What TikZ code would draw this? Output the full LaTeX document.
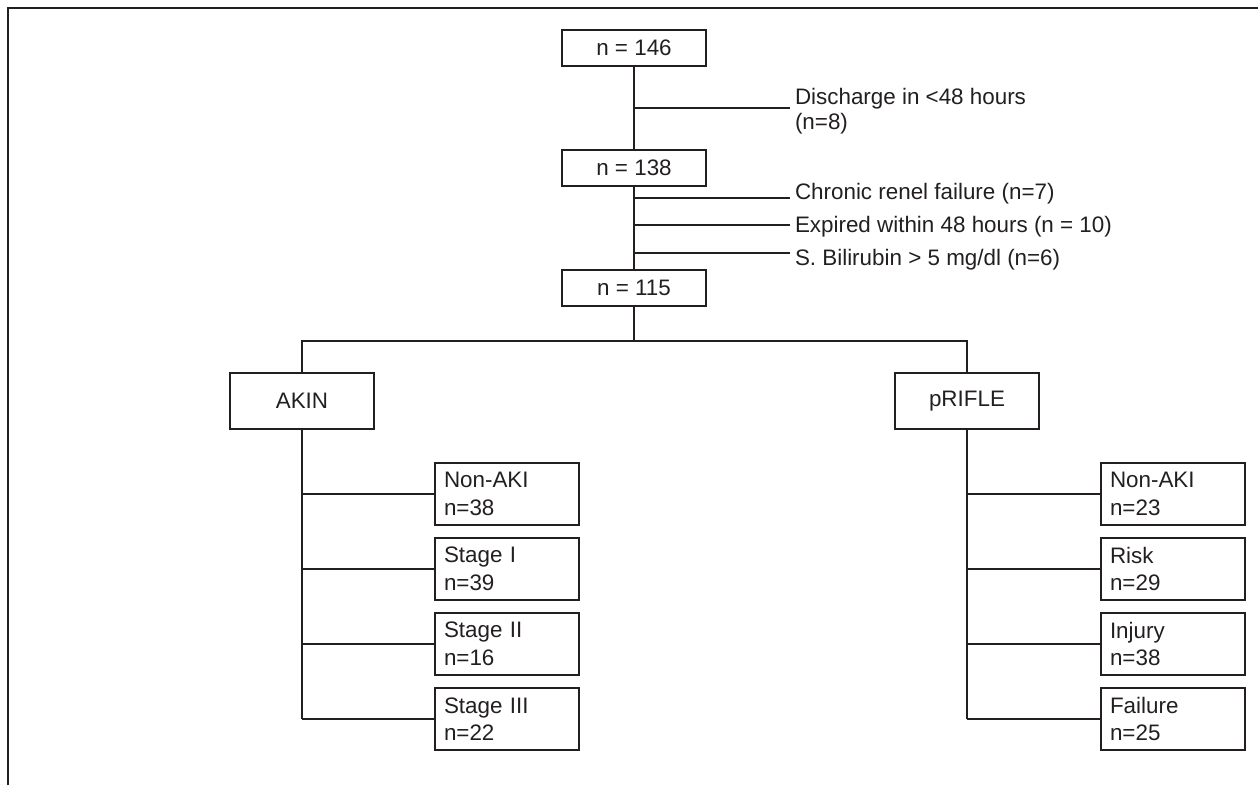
\documentclass[tikz,border=0pt]{standalone}
\usepackage{fontspec}
\setmainfont{Liberation Sans}
\usepackage{xcolor}
\usepackage{tikz}
\definecolor{inkgray}{RGB}{35,31,32}

\begin{document}
\begin{tikzpicture}[x=1pt, y=-1pt, line width=2pt, draw=inkgray, text=inkgray,
    font=\fontsize{22.4}{27.5}\selectfont,
    topbox/.style={draw, minimum width=144pt, minimum height=36pt, inner sep=0pt},
    critbox/.style={draw, minimum width=144pt, minimum height=56pt, inner sep=0pt},
    subbox/.style={draw, anchor=west, minimum width=144pt, minimum height=62pt,
        text width=126pt, inner xsep=9pt, inner ysep=0pt, align=left},
    exclnote/.style={inner sep=0pt, align=left}]
    \useasboundingbox (0,0) rectangle (1258,785);
    % open frame (top and left only)
    \draw (8,785) -- (8,8) -- (1258,8);
    % main column
    \node[topbox] (n146) at (634,48) {n = 146};
    \node[topbox] (n138) at (634,168) {n = 138};
    \node[topbox] (n115) at (634,288) {n = 115};
    \draw (n146.south) -- (n138.north);
    \draw (n138.south) -- (n115.north);
    % exclusions
    \coordinate (ex0) at (790,108);
    \node[exclnote, anchor=west, font=\fontsize{22.4}{25}\selectfont] (dis) at (794,111)
        {Discharge in <48 hours\\(n=8)};
    \draw (n146.south |- ex0) -- (ex0);
    \coordinate (ex1) at (790,198);
    \coordinate (ex2) at (790,225);
    \coordinate (ex3) at (790,253);
    \node[exclnote, anchor=base west] (crf) at (794,199) {Chronic renel failure (n=7)};
    \node[exclnote, anchor=base west] (exp) at (794,232) {Expired within 48 hours (n = 10)};
    \node[exclnote, anchor=base west] (bil) at (794,265) {S. Bilirubin > 5 mg/dl (n=6)};
    \foreach \c in {ex1,ex2,ex3}
        \draw (n138.south |- \c) -- (\c);
    % split into the two criteria
    \coordinate (split) at (634,341);
    \node[critbox] (akin) at (302,401) {AKIN};
    \node[critbox] (prifle) at (967,401) {pRIFLE};
    \draw (n115.south) -- (split);
    \draw (akin.north) |- (split) -| (prifle.north);
    % AKIN stages
    \foreach \lbl/\cnt [count=\i] in {Non-AKI/38, Stage I/39, Stage II/16, Stage III/22}{
        \node[subbox] (akin\i) at (434,419+75*\i) {\lbl\\n=\cnt};
        \draw (akin.south |- akin\i.west) -- (akin\i.west);
    }
    \draw (akin.south) -- (akin.south |- akin4.west);
    % pRIFLE classes
    \foreach \lbl/\cnt [count=\i] in {Non-AKI/23, Risk/29, Injury/38, Failure/25}{
        \node[subbox] (prifle\i) at (1100,419+75*\i) {\lbl\\n=\cnt};
        \draw (prifle.south |- prifle\i.west) -- (prifle\i.west);
    }
    \draw (prifle.south) -- (prifle.south |- prifle4.west);
\end{tikzpicture}
\end{document}
